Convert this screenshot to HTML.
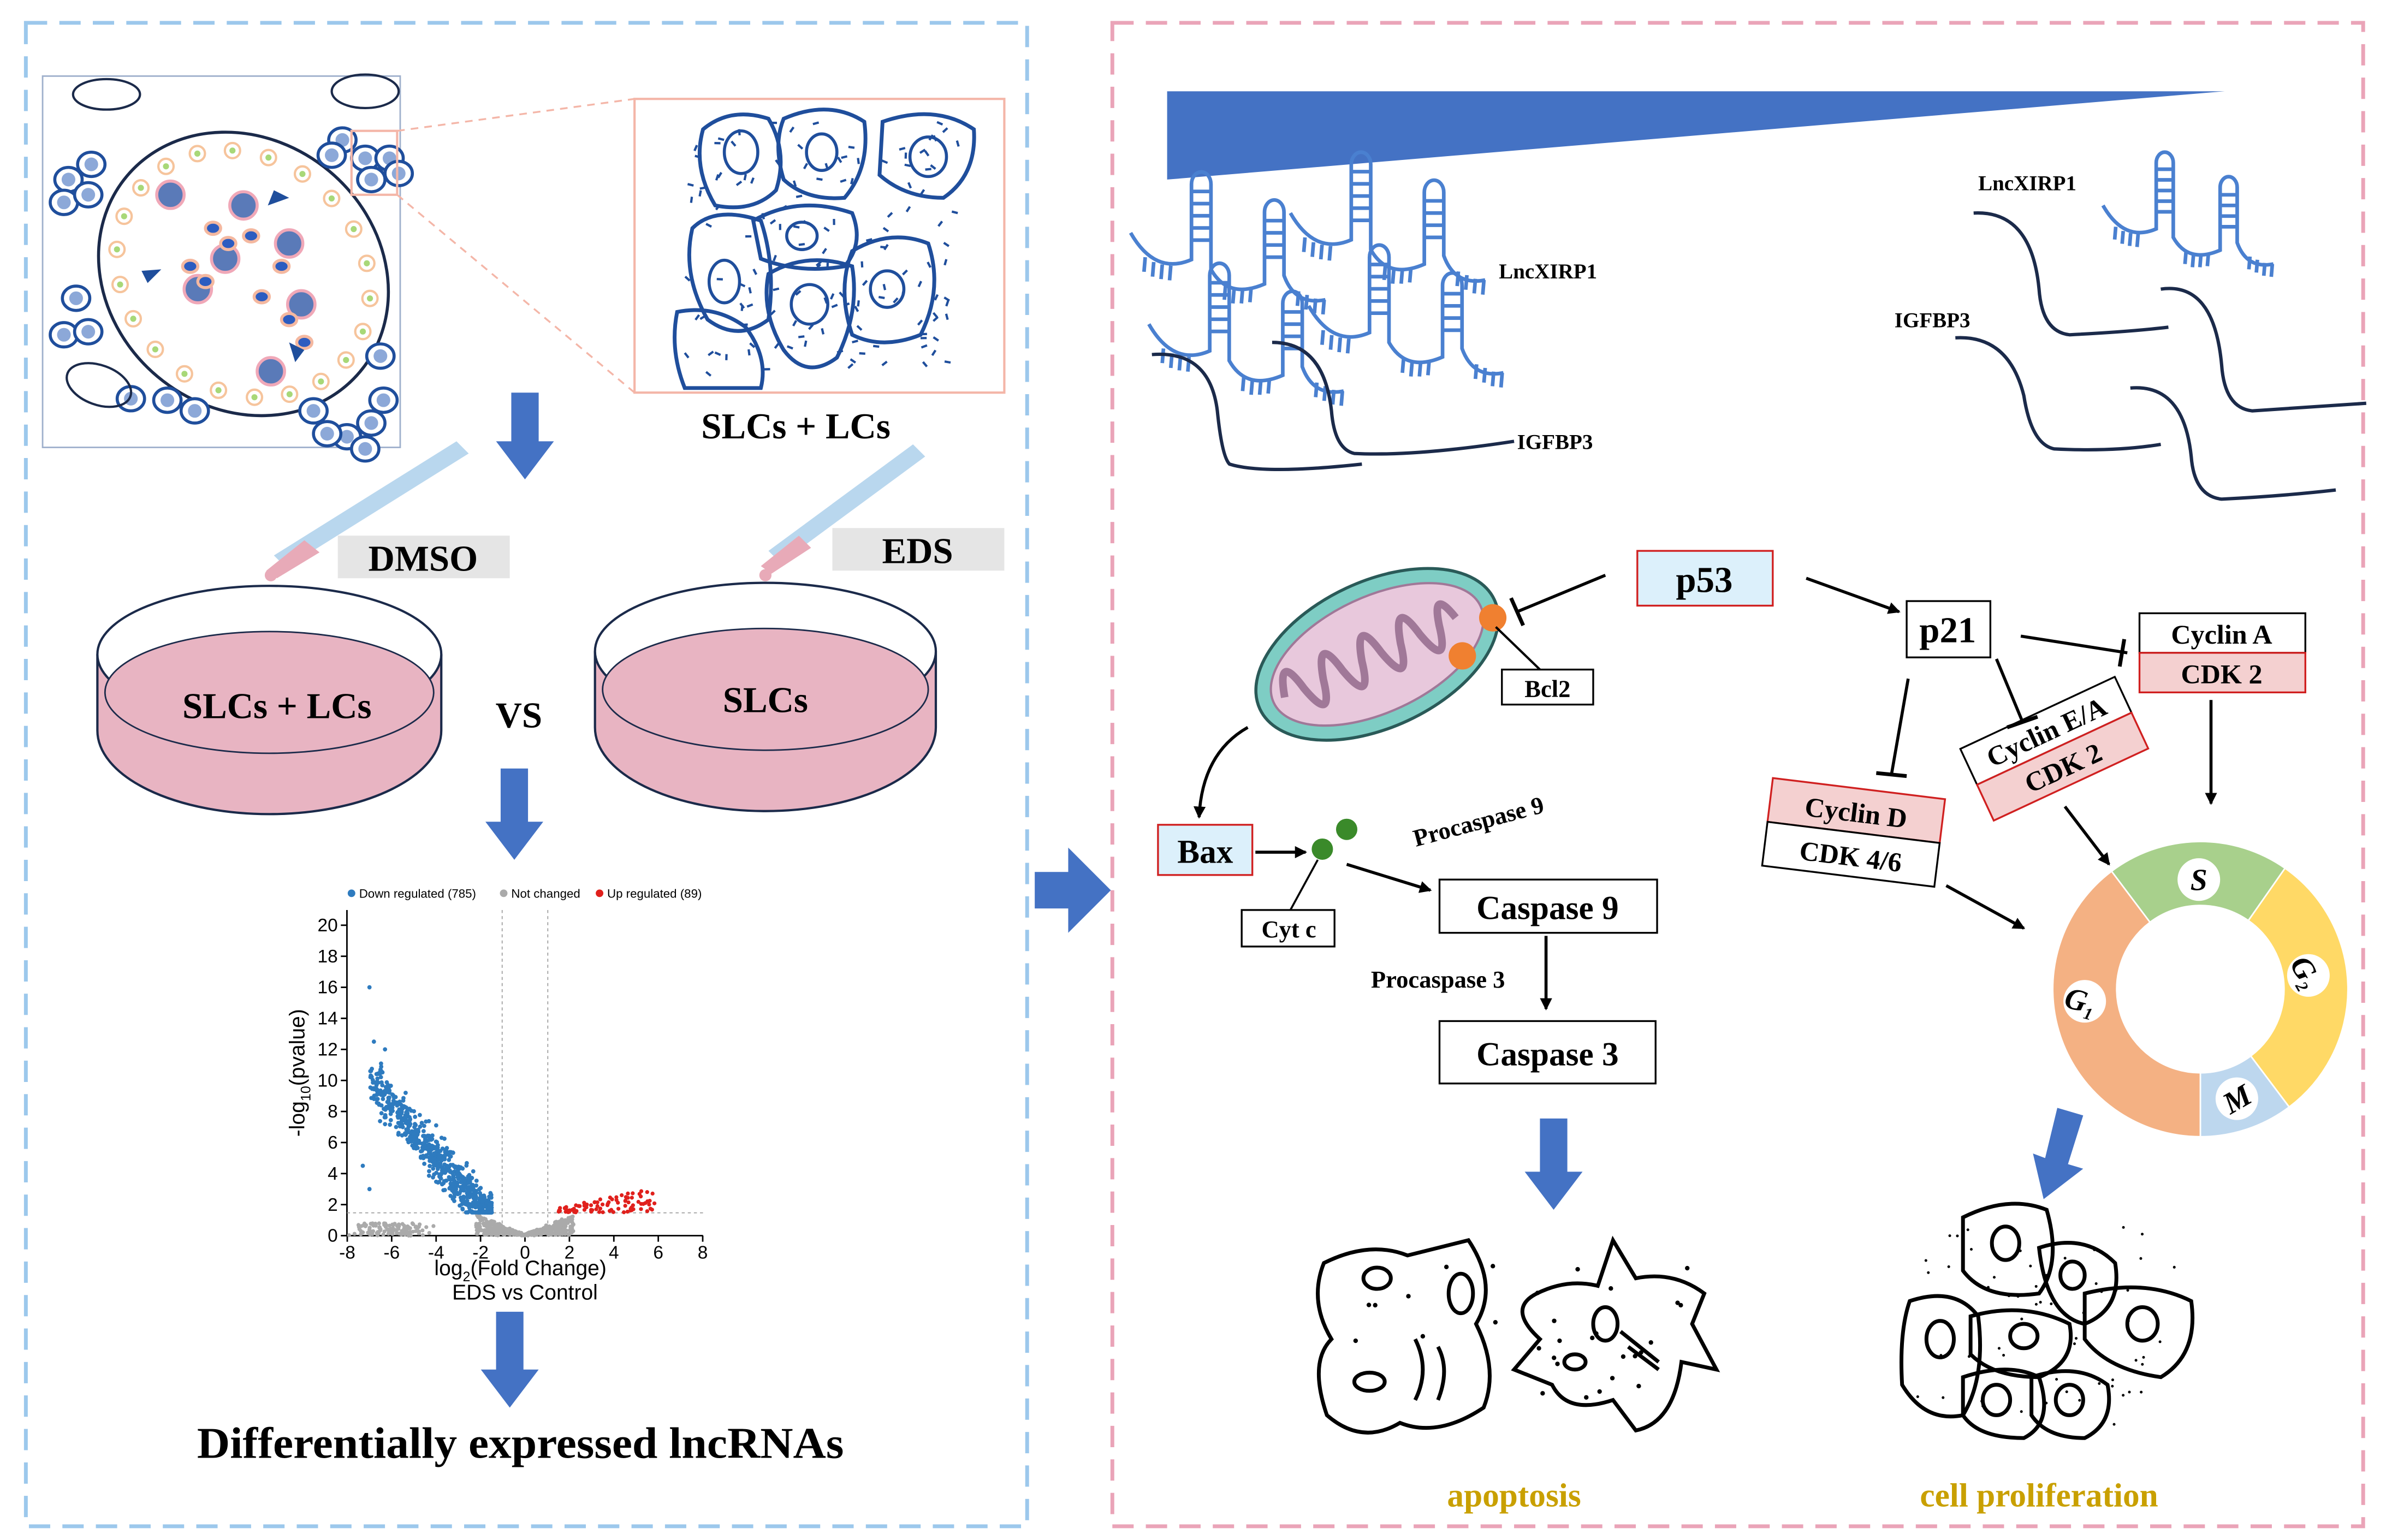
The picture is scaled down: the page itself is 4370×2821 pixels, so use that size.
<!DOCTYPE html>
<html><head><meta charset="utf-8"><style>
html,body{margin:0;padding:0;background:#fff;}
svg{display:block;}
text{font-family:"Liberation Serif",serif;font-weight:bold;fill:#000;}
.sans{font-family:"Liberation Sans",sans-serif;font-weight:normal;}
</style></head><body>
<svg id="s" width="4370" height="2821" viewBox="0 0 1568 1012" preserveAspectRatio="none" xmlns="http://www.w3.org/2000/svg">
<defs>
<marker id="ah" markerWidth="8" markerHeight="8" refX="7" refY="4" orient="auto" markerUnits="userSpaceOnUse"><path d="M0,0 L8,4 L0,8 Z" fill="#000"/></marker>
</defs>
<rect width="1568" height="1012" fill="#fff"/>
<rect x="17" y="15" width="658" height="988" fill="none" stroke="#9cc8ec" stroke-width="2.5" stroke-dasharray="14,8"/>
<rect x="731" y="15" width="822" height="988" fill="none" stroke="#eaa4b8" stroke-width="2.5" stroke-dasharray="14,8"/>

<rect x="28" y="50" width="235" height="244" fill="#fff" stroke="#9fb0cc" stroke-width="1"/>
<ellipse cx="160" cy="180" rx="100" ry="88" transform="rotate(40 160 180)" fill="none" stroke="#1b2a4a" stroke-width="2"/>
<g id="tis"></g>
<rect x="231" y="86" width="30" height="42" fill="none" stroke="#f4b6a8" stroke-width="1.5"/>
<line x1="261" y1="86" x2="417" y2="65" stroke="#f4b6a8" stroke-width="1.2" stroke-dasharray="5,4"/>
<line x1="261" y1="128" x2="417" y2="258" stroke="#f4b6a8" stroke-width="1.2" stroke-dasharray="5,4"/>
<rect x="417" y="65" width="243" height="193" fill="#fff" stroke="#f4b6a8" stroke-width="1.5"/>
<g fill="none" stroke="#1f4e9c" stroke-width="2.5">
<path d="M462,85 Q480,70 505,78 Q518,100 510,125 Q495,140 470,135 Q455,110 462,85Z"/>
<path d="M515,78 Q545,65 568,80 Q572,110 555,130 Q530,132 515,118 Q508,95 515,78Z"/>
<path d="M580,80 Q615,68 640,85 Q642,115 620,130 Q595,130 578,115Z"/>
<path d="M455,150 Q470,135 500,145 Q510,175 505,210 Q485,225 465,210 Q448,180 455,150Z"/>
<path d="M495,145 Q525,128 560,140 Q568,160 555,175 Q525,180 500,170Z"/>
<path d="M505,180 Q530,165 560,175 Q565,205 550,235 Q530,250 515,230 Q500,205 505,180Z"/>
<path d="M560,165 Q585,150 610,160 Q620,190 605,220 Q580,230 560,220 Q550,190 560,165Z"/>
<path d="M445,205 Q470,200 490,215 Q505,235 500,255 L450,255 Q440,230 445,205Z"/>
</g>
<g fill="none" stroke="#1f4e9c" stroke-width="2">
<ellipse cx="487" cy="100" rx="11" ry="14"/><ellipse cx="540" cy="100" rx="10" ry="12"/><ellipse cx="610" cy="103" rx="12" ry="13"/>
<ellipse cx="476" cy="185" rx="10" ry="14"/><ellipse cx="527" cy="155" rx="10" ry="9"/><ellipse cx="532" cy="200" rx="12" ry="13"/><ellipse cx="583" cy="190" rx="11" ry="12"/>
</g>
<g id="dash" stroke="#1f4e9c" stroke-width="1.5"></g>
<text x="523" y="288" font-size="24" text-anchor="middle">SLCs + LCs</text>

<g fill="#4472c4">
<path d="M336,258 h18 v32 h10 l-19,25 l-19,-25 h10 Z"/>
<path d="M329,505 h18 v35 h10 l-19,25 l-19,-25 h10 Z"/>
<path d="M326,862 h18 v38 h10 l-19,25 l-19,-25 h10 Z"/>
<path d="M1012,735 h18 v35 h10 l-19,25 l-19,-25 h10 Z"/>
<path d="M1352,728 l17,5 l-10,32 l10,3 l-26,20 l-7,-30 l8,3 Z"/>
<path d="M680,573 h22 v-16 l28,28 l-28,28 v-16 h-22 Z"/>
</g>

<g>
<path d="M180,365 L300,290 L308,298 L188,373 Z" fill="#b9d7ee"/>
<path d="M175,375 L200,355 L210,363 L182,380 Z" fill="#e8aab8"/>
<circle cx="178" cy="378" r="4" fill="#e8aab8"/><circle cx="178" cy="400" r="4" fill="#e8aab8"/><circle cx="178" cy="418" r="4" fill="#e8aab8"/>
<path d="M505,362 L600,292 L608,300 L513,370 Z" fill="#b9d7ee"/>
<path d="M500,372 L525,352 L533,360 L507,377 Z" fill="#e8aab8"/>
<circle cx="503" cy="378" r="4" fill="#e8aab8"/><circle cx="505" cy="395" r="4" fill="#e8aab8"/><circle cx="507" cy="413" r="4" fill="#e8aab8"/>
</g>
<rect x="222" y="352" width="113" height="28" fill="#e5e5e5"/>
<text x="278" y="375" font-size="24" text-anchor="middle">DMSO</text>
<rect x="547" y="347" width="113" height="28" fill="#e5e5e5"/>
<text x="603" y="370" font-size="24" text-anchor="middle">EDS</text>

<g stroke="#1b2a4a" stroke-width="1.5">
<path d="M64,430 L64,480 A113,55 0 0 0 290,480 L290,430" fill="#e8b4c2"/>
<ellipse cx="177" cy="430" rx="113" ry="45" fill="#fff"/>
<ellipse cx="177" cy="455" rx="108" ry="40" fill="#e8b4c2" stroke-width="1"/>
<path d="M391,428 L391,478 A112,55 0 0 0 615,478 L615,428" fill="#e8b4c2"/>
<ellipse cx="503" cy="428" rx="112" ry="45" fill="#fff"/>
<ellipse cx="503" cy="453" rx="107" ry="40" fill="#e8b4c2" stroke-width="1"/>
</g>
<text x="182" y="472" font-size="24" text-anchor="middle">SLCs + LCs</text>
<text x="503" y="468" font-size="24" text-anchor="middle">SLCs</text>
<text x="341" y="478" font-size="24" text-anchor="middle">VS</text>

<g id="vol"></g>
<circle cx="231" cy="587" r="2.5" fill="#2e7bbf"/><text x="236" y="590" font-size="8" class="sans">Down regulated (785)</text>
<circle cx="331" cy="587" r="2.5" fill="#aaa"/><text x="336" y="590" font-size="8" class="sans">Not changed</text>
<circle cx="394" cy="587" r="2.5" fill="#e0201c"/><text x="399" y="590" font-size="8" class="sans">Up regulated (89)</text>
<text x="342" y="838" font-size="14" text-anchor="middle" class="sans">log<tspan font-size="9" dy="4">2</tspan><tspan dy="-4">(Fold Change)</tspan></text>
<text x="345" y="854" font-size="14" text-anchor="middle" class="sans">EDS vs Control</text>
<text transform="translate(200,705) rotate(-90)" font-size="14" text-anchor="middle" class="sans">-log<tspan font-size="9" dy="4">10</tspan><tspan dy="-4">(pvalue)</tspan></text>

<text x="342" y="958" font-size="29" text-anchor="middle" textLength="425" lengthAdjust="spacingAndGlyphs">Differentially expressed lncRNAs</text>

<polygon points="767,60 1462,60 767,118" fill="#4472c4"/>
<g id="rna"></g>
<g fill="none" stroke="#1b2a4a" stroke-width="2.2">
<path d="M757,233 Q795,230 800,270 Q803,300 808,305 Q830,312 895,305"/>
<path d="M836,225 Q870,225 875,270 Q877,295 890,298 Q930,300 995,290"/>
<path d="M1297,140 Q1335,138 1340,190 Q1342,218 1360,220 Q1400,218 1425,215"/>
<path d="M1420,190 Q1455,185 1460,240 Q1462,268 1480,270 L1555,265"/>
<path d="M1285,222 Q1320,220 1330,260 Q1335,292 1350,295 Q1390,297 1420,292"/>
<path d="M1400,255 Q1435,252 1440,300 Q1442,326 1460,328 Q1500,326 1535,322"/>
</g>
<text x="985" y="183" font-size="14">LncXIRP1</text>
<text x="997" y="295" font-size="14">IGFBP3</text>
<text x="1300" y="125" font-size="14">LncXIRP1</text>
<text x="1245" y="215" font-size="14">IGFBP3</text>

<g transform="rotate(-25 905 430)">
<ellipse cx="905" cy="430" rx="85" ry="48" fill="#7ecdc4" stroke="#2a5a58" stroke-width="2"/>
<ellipse cx="905" cy="430" rx="75" ry="38" fill="#e8c8dc" stroke="#a07898" stroke-width="1.5"/>
<path d="M838,430 q8,-30 14,0 q8,30 14,0 q8,-30 14,0 q8,30 14,0 q8,-30 14,0 q8,30 14,0 q8,-30 14,0 q8,30 14,0 q6,-25 12,0" fill="none" stroke="#a07898" stroke-width="5"/>
</g>
<circle cx="981" cy="406" r="9" fill="#f08030"/>
<circle cx="961" cy="431" r="9" fill="#f08030"/>
<line x1="983" y1="412" x2="1012" y2="440" stroke="#000" stroke-width="1.5"/>
<line x1="1055" y1="378" x2="997" y2="402" stroke="#000" stroke-width="2"/>
<line x1="993" y1="393" x2="1001" y2="411" stroke="#000" stroke-width="2.5"/>

<rect x="1076" y="362" width="89" height="36" fill="#dcf0fb" stroke="#d02020" stroke-width="1.2"/>
<text x="1120" y="389" font-size="24" text-anchor="middle">p53</text>
<rect x="1253" y="395" width="55" height="37" fill="#fff" stroke="#000" stroke-width="1.2"/>
<text x="1280" y="422" font-size="24" text-anchor="middle">p21</text>
<rect x="1406" y="403" width="109" height="26" fill="#fff" stroke="#000" stroke-width="1.2"/>
<rect x="1406" y="429" width="109" height="26" fill="#f4d0d0" stroke="#d02020" stroke-width="1.2"/>
<text x="1460" y="423" font-size="18" text-anchor="middle">Cyclin A</text>
<text x="1460" y="449" font-size="18" text-anchor="middle">CDK 2</text>
<g transform="rotate(-25 1350 492)">
<rect x="1294" y="466" width="112" height="26" fill="#fff" stroke="#000" stroke-width="1.2"/>
<rect x="1294" y="492" width="112" height="26" fill="#f4d0d0" stroke="#d02020" stroke-width="1.2"/>
<text x="1350" y="486" font-size="18" text-anchor="middle">Cyclin E/A</text>
<text x="1350" y="512" font-size="18" text-anchor="middle">CDK 2</text>
</g>
<g transform="rotate(7 1218 548)">
<rect x="1161" y="518" width="114" height="29" fill="#f4d0d0" stroke="#d02020" stroke-width="1.2"/>
<rect x="1161" y="547" width="114" height="29" fill="#fff" stroke="#000" stroke-width="1.2"/>
<text x="1218" y="540" font-size="18" text-anchor="middle">Cyclin D</text>
<text x="1218" y="569" font-size="18" text-anchor="middle">CDK 4/6</text>
</g>
<rect x="987" y="440" width="60" height="23" fill="#fff" stroke="#000" stroke-width="1.2"/>
<text x="1017" y="458" font-size="16" text-anchor="middle">Bcl2</text>
<rect x="761" y="542" width="62" height="33" fill="#dcf0fb" stroke="#d02020" stroke-width="1.2"/>
<text x="792" y="567" font-size="22" text-anchor="middle">Bax</text>
<rect x="816" y="598" width="61" height="24" fill="#fff" stroke="#000" stroke-width="1.2"/>
<text x="847" y="616" font-size="16" text-anchor="middle">Cyt c</text>
<rect x="946" y="578" width="143" height="35" fill="#fff" stroke="#000" stroke-width="1.2"/>
<text x="1017" y="604" font-size="22" text-anchor="middle">Caspase 9</text>
<rect x="946" y="671" width="142" height="41" fill="#fff" stroke="#000" stroke-width="1.2"/>
<text x="1017" y="700" font-size="22" text-anchor="middle">Caspase 3</text>
<text transform="translate(973,545) rotate(-15)" font-size="16" text-anchor="middle">Procaspase 9</text>
<text x="945" y="649" font-size="16" text-anchor="middle">Procaspase 3</text>
<circle cx="869" cy="558" r="7" fill="#3a8a2a"/>
<circle cx="885" cy="545" r="7" fill="#3a8a2a"/>

<g stroke="#000" stroke-width="2" fill="none">
<line x1="1187" y1="380" x2="1248" y2="402" marker-end="url(#ah)"/>
<line x1="1328" y1="418" x2="1398" y2="429"/><line x1="1396" y1="420" x2="1393" y2="438" stroke-width="2.5"/>
<line x1="1312" y1="433" x2="1329" y2="474"/><line x1="1319" y1="478" x2="1339" y2="471" stroke-width="2.5"/>
<line x1="1254" y1="446" x2="1243" y2="509"/><line x1="1233" y1="508" x2="1253" y2="510" stroke-width="2.5"/>
<line x1="1453" y1="460" x2="1453" y2="528" marker-end="url(#ah)"/>
<line x1="1357" y1="530" x2="1386" y2="568" marker-end="url(#ah)"/>
<line x1="1279" y1="582" x2="1330" y2="610" marker-end="url(#ah)"/>
<path d="M820,478 Q790,495 788,537" marker-end="url(#ah)"/>
<line x1="825" y1="560" x2="858" y2="560" marker-end="url(#ah)"/>
<line x1="885" y1="568" x2="940" y2="585" marker-end="url(#ah)"/>
<line x1="848" y1="598" x2="866" y2="565" stroke-width="1.3"/>
<line x1="1016" y1="615" x2="1016" y2="663" marker-end="url(#ah)"/>
</g>

<g id="donut"></g>

<g fill="none" stroke="#000" stroke-width="2.5">
<path d="M870,830 Q900,815 925,825 L965,815 Q985,845 970,870 Q985,900 975,925 Q945,945 920,935 Q895,950 872,930 Q860,895 875,880 Q860,855 870,830Z"/>
<path d="M1010,850 Q1030,840 1050,845 L1060,815 L1075,840 Q1100,835 1120,850 L1112,870 L1128,900 L1105,895 Q1100,935 1075,940 L1060,920 Q1030,930 1020,910 L995,900 L1012,880 Q990,860 1010,850Z"/>
<ellipse cx="905" cy="840" rx="9" ry="7"/><ellipse cx="960" cy="850" rx="8" ry="13"/><ellipse cx="900" cy="908" rx="10" ry="6"/><ellipse cx="1055" cy="870" rx="8" ry="11"/><ellipse cx="1035" cy="895" rx="7" ry="5"/>
<path d="M930,880 q10,20 0,40 M945,885 q8,15 0,35 M1065,875 l25,20 M1070,885 l20,15"/>
<path d="M1290,800 Q1320,785 1345,795 Q1355,830 1340,850 Q1305,855 1290,835Z"/>
<path d="M1340,820 Q1370,810 1390,830 Q1395,860 1370,870 Q1345,865 1340,820Z"/>
<path d="M1370,850 Q1410,840 1440,855 Q1445,890 1420,905 Q1385,900 1370,880Z"/>
<path d="M1255,855 Q1285,845 1300,865 Q1305,905 1290,930 Q1265,935 1250,910 Q1248,875 1255,855Z"/>
<path d="M1295,865 Q1330,855 1360,870 Q1365,895 1340,905 Q1310,905 1295,890Z"/>
<path d="M1290,905 Q1320,895 1340,905 Q1350,935 1330,945 Q1300,945 1290,930Z"/>
<path d="M1335,905 Q1365,895 1385,910 Q1390,935 1370,945 Q1345,945 1335,930Z"/>
<ellipse cx="1318" cy="817" rx="9" ry="11"/><ellipse cx="1362" cy="838" rx="8" ry="9"/><ellipse cx="1408" cy="870" rx="10" ry="11"/><ellipse cx="1275" cy="880" rx="9" ry="12"/><ellipse cx="1330" cy="878" rx="9" ry="8"/><ellipse cx="1312" cy="920" rx="9" ry="10"/><ellipse cx="1360" cy="920" rx="9" ry="10"/>
</g>
<g id="specks" fill="#000"></g>
<text x="995" y="990" font-size="22" text-anchor="middle" style="fill:#c9a000">apoptosis</text>
<text x="1340" y="990" font-size="22" text-anchor="middle" style="fill:#c9a000">cell proliferation</text>
</svg>
<script>
(function(){
var NS="http://www.w3.org/2000/svg";
function el(p,t,a){var e=document.createElementNS(NS,t);for(var k in a)e.setAttribute(k,a[k]);p.appendChild(e);return e;}
var seed=7;function r(){seed=(seed*16807)%2147483647;return (seed-1)/2147483646;}
function gauss(){return (r()+r()+r()-1.5)/1.5;}
var t=document.getElementById('tis');
var blue=[[45,118],[60,108],[42,133],[58,128],[50,196],[42,220],[58,218],[225,92],[218,102],[240,104],[256,104],[244,118],[262,114],[110,263],[128,270],[86,262],[228,287],[244,278],[252,263],[206,270],[215,285],[250,234],[240,295]];
blue.forEach(function(p){el(t,'ellipse',{cx:p[0],cy:p[1],rx:9,ry:8,fill:'#fff',stroke:'#1f4e9c','stroke-width':2});el(t,'circle',{cx:p[0],cy:p[1],r:4.5,fill:'#8ca8d8'});});
[[70,62,22,10,0],[240,60,22,11,0],[65,253,22,13,20]].forEach(function(p){el(t,'ellipse',{cx:p[0],cy:p[1],rx:p[2],ry:p[3],transform:'rotate('+p[4]+' '+p[0]+' '+p[1]+')',fill:'none',stroke:'#1b2a4a','stroke-width':1.5});});
var ca=Math.cos(40*Math.PI/180),sa=Math.sin(40*Math.PI/180);
for(var i=0;i<22;i++){var a=i/22*Math.PI*2;var ex=88*Math.cos(a),ey=76*Math.sin(a);var x=160+ex*ca-ey*sa,y=180+ex*sa+ey*ca;el(t,'circle',{cx:x,cy:y,r:5,fill:'#fff',stroke:'#f6c49c','stroke-width':1.5});el(t,'circle',{cx:x,cy:y,r:2,fill:'#a8d878'});}
[[112,128],[130,190],[178,244],[198,200],[148,170],[190,160],[160,135]].forEach(function(p){el(t,'circle',{cx:p[0],cy:p[1],r:9,fill:'#5a7ab8',stroke:'#f0a8b8','stroke-width':2});});
[[140,150],[150,160],[165,155],[185,175],[125,175],[135,185],[172,195],[190,210],[200,225]].forEach(function(p){el(t,'ellipse',{cx:p[0],cy:p[1],rx:5,ry:4,fill:'#2c5cc0',stroke:'#f4b8a0','stroke-width':2});});
el(t,'polygon',{points:'180,125 190,130 176,135',fill:'#1f4e9c'});el(t,'polygon',{points:'93,178 106,177 97,186',fill:'#1f4e9c'});el(t,'polygon',{points:'190,225 200,230 194,238',fill:'#1f4e9c'});
// dashes in zoom cells
var ds=document.getElementById('dash');
for(var i=0;i<140;i++){var x=450+r()*180,y=80+r()*165;var a=r()*Math.PI;el(ds,'line',{x1:x,y1:y,x2:x+4*Math.cos(a),y2:y+4*Math.sin(a)});}
var sp=document.getElementById('specks');
for(var i=0;i<60;i++){var x=1260+r()*170,y=805+r()*135;el(sp,'circle',{cx:x,cy:y,r:0.9});}
for(var i=0;i<30;i++){var x=880+r()*230,y=830+r()*90;el(sp,'circle',{cx:x,cy:y,r:1.5});}
var v=document.getElementById('vol');
function X(d){return 345+d*14.6;}function Y(d){return 812-d*10.2;}
el(v,'line',{x1:228,y1:598,x2:228,y2:812,stroke:'#000','stroke-width':1});
el(v,'line',{x1:228,y1:812,x2:462,y2:812,stroke:'#000','stroke-width':1});
el(v,'line',{x1:330,y1:598,x2:330,y2:812,stroke:'#999','stroke-width':0.6,'stroke-dasharray':'2,2'});
el(v,'line',{x1:360,y1:598,x2:360,y2:812,stroke:'#999','stroke-width':0.6,'stroke-dasharray':'2,2'});
el(v,'line',{x1:228,y1:797,x2:462,y2:797,stroke:'#999','stroke-width':0.6,'stroke-dasharray':'2,2'});
for(var k=0;k<=20;k+=2){el(v,'line',{x1:224,y1:Y(k),x2:228,y2:Y(k),stroke:'#000'});var tt=el(v,'text',{x:222,y:Y(k)+4,'font-size':12,'text-anchor':'end','class':'sans'});tt.textContent=k;}
for(var k=-8;k<=8;k+=2){el(v,'line',{x1:X(k),y1:812,x2:X(k),y2:816,stroke:'#000'});var tt=el(v,'text',{x:X(k),y:827,'font-size':12,'text-anchor':'middle','class':'sans'});tt.textContent=k;}
for(var i=0;i<500;i++){var x=-2.2+4.4*r();var y=Math.abs(x)*0.6*r()+0.1*r();el(v,'circle',{cx:X(x),cy:Y(y),r:1.3,fill:'#aaa'});}
for(var i=0;i<120;i++){var x=-6-2*r()*0.5+3*r();var y=0.8*r();el(v,'circle',{cx:X(x-1),cy:Y(y),r:1.3,fill:'#aaa'});}
for(var i=0;i<750;i++){var x=-1.5-Math.pow(r(),1.6)*5.5;var y=Math.max(1.5,(-x-1)*1.7+gauss()*2.2);if(y>13)y=13*r()+1;el(v,'circle',{cx:X(x),cy:Y(y),r:1.4,fill:'#2e7bbf'});}
[[-7,16],[-6.8,12.5],[-6.3,12],[-7.3,4.5],[-7,3],[-5.8,7]].forEach(function(p){el(v,'circle',{cx:X(p[0]),cy:Y(p[1]),r:1.4,fill:'#2e7bbf'});});
for(var i=0;i<89;i++){var x=1.5+r()*4.5;var y=1.5+r()*(0.3+ (x-1.5)*0.3);el(v,'circle',{cx:X(x),cy:Y(y),r:1.3,fill:'#e0201c'});}
var g=document.getElementById('rna');
function unit(ox,oy,s){var gg=el(g,'g',{transform:'translate('+ox+','+oy+') scale('+s+')',fill:'none',stroke:'#4a80d0','stroke-width':2.4/s});
el(gg,'path',{d:'M0,0 Q20,35 50,22 L50,-40 A8,10 0 1 1 66,-40 L66,30 Q80,55 110,42 L110,-17 A8,10 0 1 1 126,-17 L126,35 Q135,60 160,55'});
[-34,-24,-14,-4,6].forEach(function(yy){el(gg,'line',{x1:50,y1:yy,x2:66,y2:yy});});
[-10,0,10,20].forEach(function(yy){el(gg,'line',{x1:110,y1:yy,x2:126,y2:yy});});
[[12,20],[19,24],[26,26],[33,27],[78,43],[85,46],[92,46],[99,45],[138,48],[145,51],[152,54],[159,55]].forEach(function(p){el(gg,'line',{x1:p[0],y1:p[1],x2:p[0]-1,y2:p[1]+12});});
}
unit(743,153,0.8);unit(848,140,0.8);unit(755,213,0.8);unit(860,201,0.8);unit(1382,135,0.7);
var d=document.getElementById('donut');var cx=1446,cy=650,R=97,r0=55;
function arc(a1,a2,col){a1*=Math.PI/180;a2*=Math.PI/180;var l=(a2-a1)>Math.PI?1:0;
var p='M'+(cx+R*Math.cos(a1))+','+(cy+R*Math.sin(a1))+' A'+R+','+R+' 0 '+l+' 1 '+(cx+R*Math.cos(a2))+','+(cy+R*Math.sin(a2))+' L'+(cx+r0*Math.cos(a2))+','+(cy+r0*Math.sin(a2))+' A'+r0+','+r0+' 0 '+l+' 0 '+(cx+r0*Math.cos(a1))+','+(cy+r0*Math.sin(a1))+'Z';
el(d,'path',{d:p,fill:col,stroke:'#fff','stroke-width':1});}
arc(-127,-55,'#a8d08c');arc(-55,53,'#ffd966');arc(53,90,'#bdd7ee');arc(90,233,'#f4b183');
[[1445,578,'S',0],[1517,641,'G',60],[1470,722,'M',-30],[1370,658,'G',15]].forEach(function(p,i){el(d,'circle',{cx:p[0],cy:p[1],r:14,fill:'#fff'});var tx=el(d,'text',{x:p[0]-(i==1||i==3?3:0),y:p[1]+7,'font-size':20,'text-anchor':'middle','font-style':'italic',transform:'rotate('+p[3]+' '+p[0]+' '+p[1]+')'});tx.textContent=p[2];
if(i==1||i==3){var s=el(tx,'tspan',{'font-size':11,dy:4});s.textContent=i==1?'2':'1';}});
})();
</script>
</body></html>
